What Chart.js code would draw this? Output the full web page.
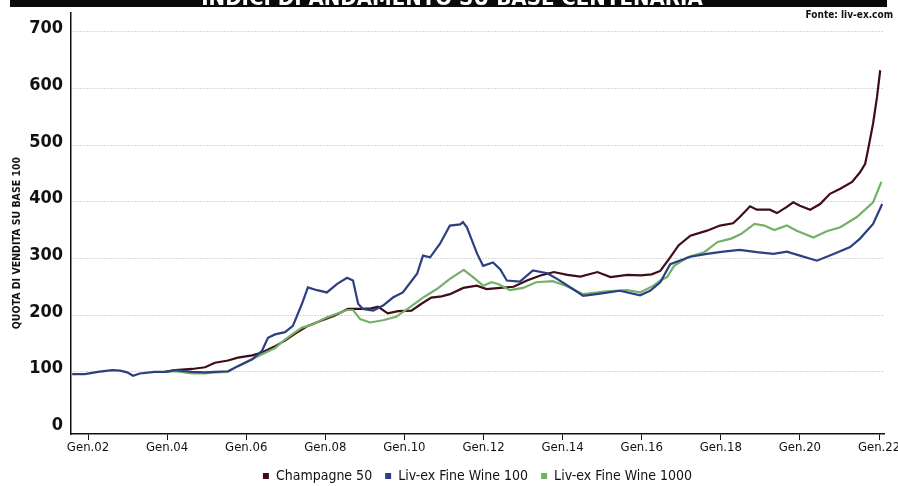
<!DOCTYPE html>
<html>
<head>
<meta charset="utf-8">
<script src="https://cdn.jsdelivr.net/npm/chart.js@4.4.1/dist/chart.umd.min.js"></script>
<style>
html,body{margin:0;padding:0;background:#fff;}
#wrap{width:898px;height:486px;position:relative;overflow:hidden;}
</style>
</head>
<body>
<div id="wrap"><canvas id="c" width="898" height="486"></canvas></div>
<script>
// ---------- DATA ----------
const seriesNames = ['Champagne 50', 'Liv-ex Fine Wine 100', 'Liv-ex Fine Wine 1000'];
const xTickYears = [2002, 2004, 2006, 2008, 2010, 2012, 2014, 2016, 2018, 2020, 2022];
const xTickLabels = ['Gen.02', 'Gen.04', 'Gen.06', 'Gen.08', 'Gen.10', 'Gen.12', 'Gen.14', 'Gen.16', 'Gen.18', 'Gen.20', 'Gen.22'];
const yTicks = [0, 100, 200, 300, 400, 500, 600, 700];
const chartTitle = 'INDICI DI ANDAMENTO SU BASE CENTENARIA';
const sourceText = 'Fonte: liv-ex.com';
const yAxisTitle = 'QUOTA DI VENDITA SU BASE 100';

const champagneDates = [2003.95, 2004.20, 2004.63, 2004.96, 2005.21, 2005.54, 2005.79, 2006.15, 2006.40, 2006.70, 2006.98,
  2007.23, 2007.56, 2007.89, 2008.23, 2008.57, 2008.91, 2009.16, 2009.33, 2009.58, 2009.84, 2010.18, 2010.43, 2010.68,
  2010.94, 2011.15, 2011.49, 2011.83, 2012.08, 2012.42, 2012.76, 2013.10, 2013.44, 2013.78, 2014.12, 2014.45, 2014.88,
  2015.21, 2015.64, 2015.98, 2016.25, 2016.47, 2016.72, 2016.93, 2017.23, 2017.65, 2017.98, 2018.31, 2018.48, 2018.74,
  2018.91, 2019.24, 2019.42, 2019.67, 2019.83, 2020.00, 2020.26, 2020.51, 2020.76, 2021.02, 2021.32, 2021.52, 2021.65,
  2021.72, 2021.85, 2021.95, 2022.03];
const champagneValues = [100, 103, 105, 108, 116, 120, 125, 129, 134, 144, 155,
  167, 181, 190, 199, 211, 211, 212, 215, 203, 207, 208, 220, 231,
  233, 237, 248, 252, 246, 248, 250, 261, 270, 276, 271, 268, 276,
  267, 271, 270, 272, 278, 302, 323, 340, 349, 358, 362, 373, 392,
  386, 386, 380, 391, 399, 393, 386, 396, 414, 423, 435, 452, 467,
  491, 538, 585, 632];

const fineWine100Dates = [2001.60, 2001.92, 2002.25, 2002.61, 2002.81, 2002.99, 2003.14, 2003.31, 2003.69, 2003.95, 2004.20,
  2004.63, 2004.96, 2005.21, 2005.54, 2005.79, 2006.15, 2006.40, 2006.55, 2006.73, 2006.98, 2007.18, 2007.41, 2007.56,
  2007.79, 2008.04, 2008.30, 2008.55, 2008.70, 2008.83, 2008.95, 2009.21, 2009.46, 2009.71, 2009.96, 2010.32, 2010.47,
  2010.65, 2010.90, 2011.15, 2011.41, 2011.48, 2011.58, 2011.84, 2011.99, 2012.24, 2012.42, 2012.59, 2012.92, 2013.25,
  2013.61, 2013.86, 2014.26, 2014.52, 2014.95, 2015.45, 2015.96, 2016.21, 2016.47, 2016.72, 2017.23, 2017.65, 2018.06,
  2018.48, 2018.91, 2019.33, 2019.67, 2020.00, 2020.43, 2020.85, 2021.27, 2021.52, 2021.85, 2022.08];
const fineWine100Values = [96, 96, 100, 103, 102, 99, 93, 97, 100, 100, 103,
  100, 99, 100, 101, 110, 122, 137, 160, 166, 170, 181, 220, 249,
  244, 240, 255, 266, 261, 220, 211, 208, 217, 231, 240, 273, 305,
  302, 326, 358, 360, 364, 355, 308, 287, 293, 281, 261, 259, 279,
  274, 264, 246, 234, 238, 243, 235, 243, 258, 290, 303, 308, 312,
  315, 311, 308, 312, 305, 296, 308, 320, 335, 361, 396];

const fineWine1000Dates = [2003.95, 2004.20, 2004.63, 2004.96, 2005.21, 2005.54, 2005.79, 2006.15, 2006.40, 2006.73, 2006.98,
  2007.18, 2007.41, 2007.69, 2008.04, 2008.55, 2008.70, 2008.88, 2009.13, 2009.46, 2009.79, 2010.14, 2010.47, 2010.82,
  2011.15, 2011.50, 2011.79, 2011.99, 2012.20, 2012.37, 2012.67, 2013.00, 2013.33, 2013.75, 2014.08, 2014.52, 2015.11,
  2015.62, 2015.96, 2016.30, 2016.47, 2016.64, 2016.82, 2017.16, 2017.58, 2017.92, 2018.26, 2018.51, 2018.85, 2019.10,
  2019.35, 2019.67, 2019.92, 2020.34, 2020.68, 2021.02, 2021.44, 2021.85, 2022.06];
const fineWine1000Values = [100, 101, 97, 97, 99, 100, 110, 122, 131, 142, 157,
  167, 178, 184, 196, 209, 209, 193, 187, 191, 197, 214, 231, 246,
  264, 280, 264, 252, 258, 255, 244, 248, 258, 260, 252, 237, 242,
  244, 240, 252, 261, 267, 287, 302, 311, 329, 335, 343, 361, 358,
  350, 358, 349, 337, 348, 355, 373, 399, 435];

// ---------- STYLE ----------
const RED = '#3f0c18';
const BLUE = '#2c3f80';
const GREEN = '#74b068';
const NARROW = "'Liberation Sans Narrow', 'DejaVu Sans Condensed', 'Roboto', sans-serif";

function toPoints(dates, values) {
  return dates.map((d, i) => ({ x: d, y: values[i] }));
}

const decorPlugin = {
  id: 'decor',
  afterDraw(chart) {
    const ctx = chart.ctx;
    // black title band (cut off at the top in the reference)
    ctx.save();
    ctx.fillStyle = '#0a0a0a';
    ctx.fillRect(10, 0, 877, 7);
    ctx.beginPath();
    ctx.rect(10, 0, 877, 7);
    ctx.clip();
    ctx.fillStyle = '#ffffff';
    ctx.font = "bold 22px " + NARROW;
    ctx.textAlign = 'center';
    ctx.textBaseline = 'alphabetic';
    ctx.fillText(chartTitle, 452, 5);
    ctx.restore();
    // source
    ctx.save();
    ctx.fillStyle = '#111';
    ctx.font = "bold 10px " + NARROW;
    ctx.textAlign = 'right';
    ctx.textBaseline = 'alphabetic';
    ctx.fillText(sourceText, 893, 18);
    ctx.restore();
    // y axis title
    ctx.save();
    ctx.translate(17, 243);
    ctx.rotate(-Math.PI / 2);
    ctx.fillStyle = '#111';
    ctx.font = "bold 10.5px " + NARROW;
    ctx.textAlign = 'center';
    ctx.textBaseline = 'middle';
    ctx.fillText(yAxisTitle, 0, 0);
    ctx.restore();
  }
};

const ctx = document.getElementById('c').getContext('2d');
new Chart(ctx, {
  type: 'line',
  data: {
    datasets: [
      { label: seriesNames[0], data: toPoints(champagneDates, champagneValues), borderColor: RED, backgroundColor: RED,
        borderWidth: 2.2, pointRadius: 0, tension: 0, order: 2 },
      { label: seriesNames[1], data: toPoints(fineWine100Dates, fineWine100Values), borderColor: BLUE, backgroundColor: BLUE,
        borderWidth: 2.2, pointRadius: 0, tension: 0, order: 0 },
      { label: seriesNames[2], data: toPoints(fineWine1000Dates, fineWine1000Values), borderColor: GREEN, backgroundColor: GREEN,
        borderWidth: 2.2, pointRadius: 0, tension: 0, order: 1 }
    ]
  },
  options: {
    responsive: false,
    animation: false,
    devicePixelRatio: 1,
    layout: { padding: { top: 13, right: 14, left: 0, bottom: -7 } },
    plugins: {
      tooltip: { enabled: false },
      legend: {
        position: 'bottom',
        fullSize: false,
        labels: {
          boxWidth: 6,
          boxHeight: 6,
          padding: 13,
          color: '#111',
          font: { family: NARROW, size: 14 },
          generateLabels(chart) {
            const items = Chart.defaults.plugins.legend.labels.generateLabels(chart);
            items.forEach(it => { it.lineWidth = 0; it.strokeStyle = 'rgba(0,0,0,0)'; });
            return items.sort((a, b) => a.datasetIndex - b.datasetIndex);
          }
        }
      }
    },
    scales: {
      x: {
        type: 'linear',
        min: 2001.57,
        max: 2022.126,
        afterBuildTicks(s) { s.ticks = xTickYears.map(v => ({ value: v })); },
        afterFit(s) { s.height = 22; s.paddingLeft = 0; s.paddingRight = 0; },
        ticks: {
          autoSkip: false, maxRotation: 0, padding: 0, color: '#111',
          font: { family: NARROW, size: 13 },
          callback(v) { const i = xTickYears.indexOf(v); return i >= 0 ? xTickLabels[i] : ''; }
        },
        grid: { drawOnChartArea: false, drawTicks: true, tickLength: 6, tickColor: '#111', tickWidth: 1, color: '#111' },
        border: { display: true, color: '#111', width: 1.5 }
      },
      y: {
        min: -9.73,
        max: 733,
        afterBuildTicks(s) { s.ticks = yTicks.map(v => ({ value: v })); },
        afterFit(s) { s.width = 71; s.paddingTop = 0; s.paddingBottom = 0; },
        ticks: {
          padding: 8, labelOffset: -3, color: '#111',
          font: { family: NARROW, size: 18, weight: 'bold' },
          callback(v) { return String(v); }
        },
        grid: {
          drawTicks: false,
          lineWidth: 1,
          color(c) { return (c.tick && c.tick.value === 0) ? 'rgba(0,0,0,0)' : '#b0b0b0'; }
        },
        border: { display: true, color: '#111', width: 1.5, dash: [1, 2] }
      }
    }
  },
  plugins: [decorPlugin]
});
</script>
</body>
</html>
